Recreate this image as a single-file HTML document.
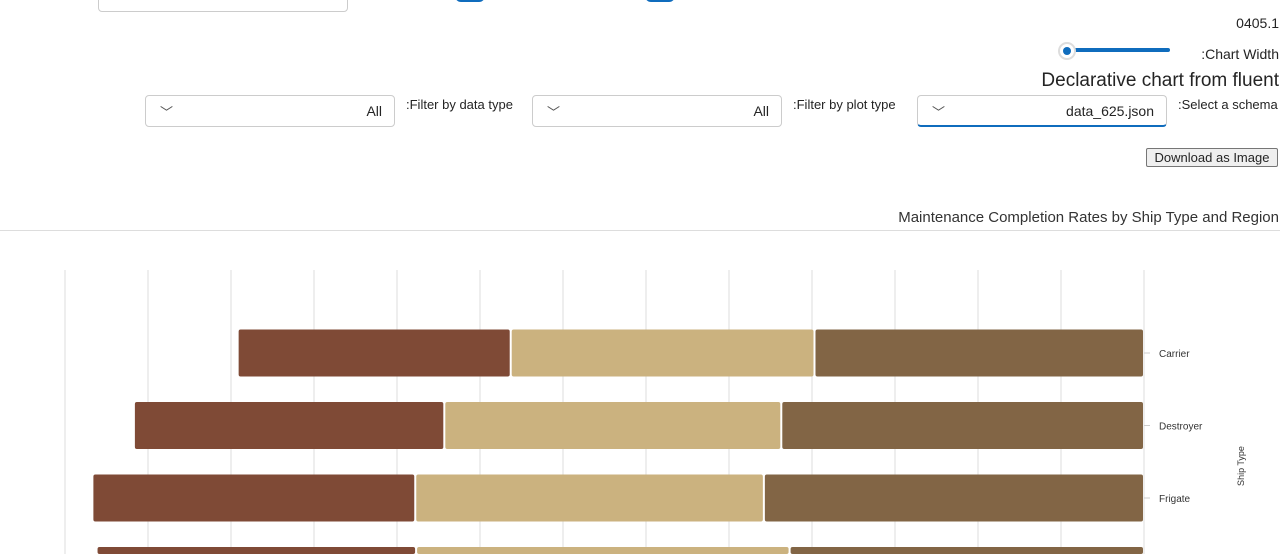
<!DOCTYPE html>
<html><head><meta charset="utf-8"><style>
html,body{margin:0;width:1280px;height:554px;overflow:hidden}
body{background:#fff;font-family:"Segoe UI","Liberation Sans",sans-serif;color:#242424;position:relative}
.abs{position:absolute}
.dd{position:absolute;height:30px;border:1px solid #ccc;border-radius:4px;box-sizing:border-box;background:#fff}
.dd .v{position:absolute;right:12px;top:7px;font-size:14px}
.dd .c{position:absolute;left:14px;top:6px;font-size:13px;color:#555}
.lbl{position:absolute;font-size:13px}
</style></head><body>
<div class="abs" style="left:0;top:0;width:1280px;height:554px;overflow:hidden">
<div class="dd" style="left:98px;top:-18px;width:250px"><span class="v" style="top:-1px">Light</span></div>
<div class="abs" style="left:455px;top:-10px;width:30px;height:12px;background:#0f6cbd;border-radius:6px"></div>
<div class="abs" style="left:645px;top:-10px;width:30px;height:12px;background:#0f6cbd;border-radius:6px"></div>
<div class="lbl" style="right:1px;top:15px;font-size:14px">0405.1</div>
<div class="abs" style="left:1058px;top:42px;width:112px;height:18px">
<div class="abs" style="left:8px;top:6px;width:104px;height:4px;background:#0f6cbd;border-radius:2px"></div>
<div class="abs" style="left:0;top:0;width:14px;height:14px;border:2px solid #ddd;border-radius:50%;background:#fff"><div class="abs" style="left:3px;top:3px;width:8px;height:8px;border-radius:50%;background:#0f6cbd"></div></div></div>
<div class="lbl" style="right:1px;top:46px;font-size:14px">:Chart Width</div>
<div class="lbl" style="right:1px;top:70px;font-size:19px;font-weight:500">Declarative chart from fluent</div>
<div class="dd" style="left:145px;top:95px;width:250px;height:32px"><span class="c">﹀</span><span class="v">All</span></div>
<div class="lbl" style="left:406px;top:97px">:Filter by data type</div>
<div class="dd" style="left:532px;top:95px;width:250px;height:32px"><span class="c">﹀</span><span class="v">All</span></div>
<div class="lbl" style="left:793px;top:97px">:Filter by plot type</div>
<div class="dd" style="left:917px;top:95px;width:250px;height:32px;border-bottom:2px solid #0f6cbd"><span class="c">﹀</span><span class="v">data_625.json</span></div>
<div class="lbl" style="left:1178px;top:97px">:Select a schema</div>
<div class="abs" style="left:1146px;top:148px;width:132px;height:19px;border:1px solid #767676;border-radius:2px;background:#efefef;font-size:13px;text-align:center;line-height:18px;box-sizing:border-box;font-family:'Liberation Sans',sans-serif">Download as Image</div>
<div class="lbl" style="right:1px;top:209px;font-size:15px;font-weight:500;color:#333">Maintenance Completion Rates by Ship Type and Region</div>
<div class="abs" style="left:0;top:230px;width:1280px;height:1px;background:#ddd"></div>
<svg class="abs" style="left:0;top:0;display:block" width="1280" height="554" id="chart"></svg>
</div>
<script>
const categories=["Carrier","Destroyer","Frigate","Patrol"];
const seriesRed=[32.9,37.4,38.9,38.5];
const seriesTan=[36.6,40.6,42.0,45.0];
const seriesBrown=[39.7,43.7,45.8,42.7];
const ticks=[0,10,20,30,40,50,60,70,80,90,100,110,120,130];
const NS="http://www.w3.org/2000/svg";
const svg=document.getElementById('chart');
const x=v=>1144-v*8.3;
const y=i=>353+i*72.5;
function mk(t,a){const e=document.createElementNS(NS,t);for(const k in a)e.setAttribute(k,a[k]);svg.appendChild(e);return e;}
ticks.forEach(t=>{const g=mk('line',{x1:x(t),x2:x(t),y1:270,y2:554,stroke:'#ddd','stroke-width':1});

});
const series=[[seriesBrown,'#826545'],[seriesTan,'#cbb27f'],[seriesRed,'#7f4a36']];
categories.forEach((c,i)=>{let acc=0;
series.forEach(([arr,col])=>{const v=arr[i];const h=Math.min(47,554-(y(i)-23.5));const r=mk('rect',{x:x(acc+v)+1,y:y(i)-23.5,width:v*8.3-2,height:h,rx:2,fill:col});


acc+=v;});
if(y(i)<554){
const tk=mk('line',{x1:1144,x2:1150,y1:y(i),y2:y(i),stroke:'#ccc'});


const tx=mk('text',{x:1159,y:y(i)+4,'font-size':10,fill:'#333','font-family':'Liberation Sans, sans-serif'});tx.textContent=c;

}});
const yt=mk('text',{x:0,y:0,'font-size':9,fill:'#333','text-anchor':'middle','font-family':'Liberation Sans, sans-serif',transform:'translate(1244,466) rotate(-90)'});yt.textContent='Ship Type';


</script>
</body></html>
